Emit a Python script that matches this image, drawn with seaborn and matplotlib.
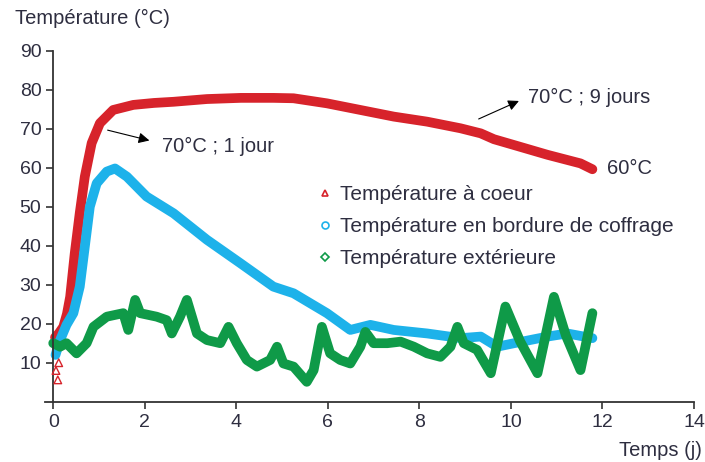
import matplotlib
matplotlib.use("Agg")
import matplotlib.pyplot as plt
from matplotlib.lines import Line2D
import seaborn as sns
import pandas as pd

# Température à coeur (red)
red_x = [0.04, 0.12, 0.22, 0.30, 0.37, 0.47, 0.58, 0.69, 0.84, 1.02, 1.31, 1.75,
         2.20, 2.63, 3.36, 4.10, 4.81, 5.25, 5.98, 6.71, 7.44, 8.17, 8.90, 9.34,
         9.63, 10.07, 10.80, 11.52, 11.78]
red_y = [16.5, 17.5, 19.2, 22.5, 26.9, 38.0, 48.4, 57.7, 66.3, 71.4, 74.8, 76.1,
         76.6, 76.9, 77.6, 77.9, 77.9, 77.8, 76.5, 74.8, 73.1, 71.8, 70.1, 68.8,
         67.3, 65.8, 63.3, 61.1, 59.6]

# Température en bordure de coffrage (blue)
blue_x = [0.05, 0.15, 0.29, 0.44, 0.58, 0.69, 0.80, 0.95, 1.17, 1.35, 1.61, 2.04,
          2.63, 3.36, 4.09, 4.81, 5.25, 5.98, 6.49, 6.93, 7.44, 8.17, 8.90, 9.34,
          9.70, 10.07, 10.80, 11.23, 11.78]
blue_y = [12.0, 15.8, 19.7, 22.7, 29.5, 39.7, 50.0, 56.0, 59.0, 59.8, 57.7, 52.6,
          48.3, 41.5, 35.5, 29.5, 27.8, 22.7, 18.4, 19.7, 18.4, 17.5, 16.3, 16.7,
          14.1, 15.0, 16.7, 17.5, 16.3]

# Température extérieure (green)
green_x = [0.00, 0.15, 0.29, 0.51, 0.73, 0.88, 1.17, 1.53, 1.64, 1.79, 1.90, 2.26,
           2.48, 2.59, 2.77, 2.92, 3.14, 3.36, 3.65, 3.83, 4.01, 4.23, 4.45, 4.74,
           4.89, 5.03, 5.25, 5.54, 5.69, 5.87, 6.05, 6.27, 6.49, 6.71, 6.82, 7.00,
           7.30, 7.59, 7.88, 8.17, 8.46, 8.68, 8.83, 8.97, 9.26, 9.56, 9.88, 10.20,
           10.58, 10.94, 11.20, 11.52, 11.78]
green_y = [15.0, 14.1, 15.0, 12.4, 15.0, 19.2, 21.8, 22.7, 18.4, 26.1, 22.7, 21.8,
           20.9, 17.5, 21.8, 26.1, 17.5, 15.8, 15.0, 19.2, 15.0, 10.7, 9.0, 10.7,
           14.1, 9.8, 9.0, 5.1, 8.1, 19.2, 12.4, 10.7, 9.8, 14.1, 17.9, 15.0,
           15.0, 15.4, 14.1, 12.4, 11.5, 14.1, 19.2, 15.0, 13.3, 7.3, 24.4, 15.5,
           7.3, 26.9, 17.0, 8.1, 22.7]

# scattered first readings near t = 0
start_x = [0.10, 0.06, 0.12]
start_y = [5.6, 8.0, 10.0]

RED = "#d7232b"
BLUE = "#1db2ea"
GREEN = "#0f9a48"
TXT = "#2e2e40"
FS = 14

sns.set_style("ticks")
plt.rcParams["font.family"] = ["Liberation Sans", "DejaVu Sans"]

fig = plt.figure(figsize=(7.05, 4.62), dpi=100)
ax = fig.add_axes([0.0638, 0.1305, 0.9206, 0.7598])

series = [(red_x, red_y, RED), (blue_x, blue_y, BLUE), (green_x, green_y, GREEN)]
for xs, ys, col in series:
    df = pd.DataFrame({"t": xs, "T": ys})
    sns.lineplot(data=df, x="t", y="T", ax=ax, color=col, lw=7,
                 sort=False, estimator=None, solid_capstyle="round",
                 solid_joinstyle="round")

ax.scatter(start_x, start_y, marker="^", s=30, facecolors="none",
           edgecolors=RED, linewidths=1.0, zorder=4)

ax.set_xlim(-0.18, 14)
ax.set_ylim(0, 90)
ax.set_xticks(range(0, 15, 2))
ax.set_yticks(range(10, 91, 10))
ax.set_xlabel("")
ax.set_ylabel("")
ax.spines["top"].set_visible(False)
ax.spines["right"].set_visible(False)
ax.spines["left"].set_position(("data", 0))
for s in ["left", "bottom"]:
    ax.spines[s].set_color("#333333")
    ax.spines[s].set_linewidth(1.3)
ax.tick_params(axis="both", labelsize=FS, labelcolor=TXT, color="#333333",
               length=5, width=1.2, direction="out")

fig.text(15 / 705, 1 - 18 / 462, "Température (°C)", fontsize=FS + 0.5,
         color=TXT, va="center", ha="left")
fig.text(702 / 705, 1 - 450 / 462, "Temps (j)", fontsize=FS + 0.5,
         color=TXT, va="center", ha="right")

arrow = dict(arrowstyle="-|>", color="black", lw=0.8, mutation_scale=16)
ax.annotate("", xy=(2.16, 66.8), xytext=(1.13, 69.8), arrowprops=arrow)
ax.text(2.38, 65.5, "70°C ; 1 jour", fontsize=FS + 0.5, color=TXT, va="center")
ax.annotate("", xy=(10.23, 77.4), xytext=(9.24, 72.2), arrowprops=arrow)
ax.text(10.38, 77.9, "70°C ; 9 jours", fontsize=FS + 0.5, color=TXT, va="center")
ax.text(12.09, 59.8, "60°C", fontsize=FS + 0.5, color=TXT, va="center")

handles = [
    Line2D([], [], ls="none", marker="^", markersize=5, mfc="none", mec=RED, mew=1.2),
    Line2D([], [], ls="none", marker="o", markersize=5, mfc="none", mec=BLUE, mew=1.2),
    Line2D([], [], ls="none", marker="D", markersize=4, mfc="none", mec=GREEN, mew=1.2),
]
labels = ["Température à coeur", "Température en bordure de coffrage",
          "Température extérieure"]
leg = ax.legend(handles, labels, loc="upper left", bbox_to_anchor=(0.424, 0.617),
                frameon=False, fontsize=FS + 1, handlelength=0.5, handletextpad=0.45,
                labelspacing=0.62, borderaxespad=0, borderpad=0)
for t in leg.get_texts():
    t.set_color(TXT)

fig.savefig("out.png", dpi=100)
